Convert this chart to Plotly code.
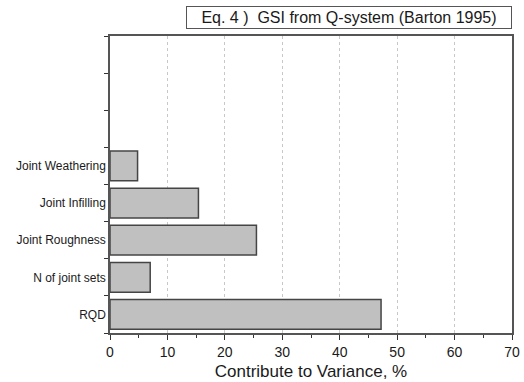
import plotly.graph_objects as go

# Contribution of each Q-system parameter to the variance of GSI
factors = ["RQD", "N of joint sets", "Joint Roughness", "Joint Infilling", "Joint Weathering"]
variance_pct = [47.2, 7.0, 25.5, 15.4, 4.8]
# three empty slots above the bars keep the axis layout
spare_slots = [" ", "  ", "   "]
x_ticks = [0, 10, 20, 30, 40, 50, 60, 70]

fig = go.Figure(
    go.Bar(
        x=variance_pct,
        y=factors,
        orientation="h",
        marker=dict(color="#c0c0c0", line=dict(color="#454545", width=1.5)),
        width=0.8,
    )
)

font_family = "Liberation Sans, Arial, sans-serif"

fig.update_layout(
    width=524,
    height=382,
    margin=dict(l=110, r=12, t=36, b=49),
    plot_bgcolor="white",
    paper_bgcolor="white",
    font=dict(family=font_family, color="#1a1a1a", size=12),
    showlegend=False,
    xaxis=dict(
        range=[0, 70],
        tickvals=x_ticks,
        ticks="outside",
        ticklen=5,
        tickcolor="#333",
        tickfont=dict(size=14),
        showline=True,
        linecolor="#555",
        linewidth=1.5,
        mirror=True,
        showgrid=True,
        gridcolor="#c8c8c8",
        griddash="dot",
        gridwidth=1,
        zeroline=False,
        automargin=False,
        minor=dict(ticks="outside", dtick=5, ticklen=3, tickcolor="#333", showgrid=False),
        title=dict(text="Contribute to Variance, %", font=dict(size=17), standoff=7),
    ),
    yaxis=dict(
        type="category",
        categoryorder="array",
        categoryarray=factors + spare_slots,
        range=[-0.5, 7.5],
        tickson="boundaries",
        ticks="outside",
        ticklen=4,
        tickcolor="#333",
        tickfont=dict(size=12),
        showline=True,
        linecolor="#555",
        linewidth=1.5,
        mirror=True,
        showgrid=False,
        zeroline=False,
        automargin=False,
    ),
    annotations=[
        dict(
            text="Eq. 4 )  GSI from Q-system (Barton 1995)",
            xref="paper",
            yref="paper",
            x=1.0,
            y=1.024,
            xanchor="right",
            yanchor="bottom",
            showarrow=False,
            width=322,
            height=19,
            bordercolor="#555",
            borderwidth=1,
            borderpad=1,
            font=dict(size=16, family=font_family, color="#1a1a1a"),
        )
    ],
)

fig.write_html("out.html")
